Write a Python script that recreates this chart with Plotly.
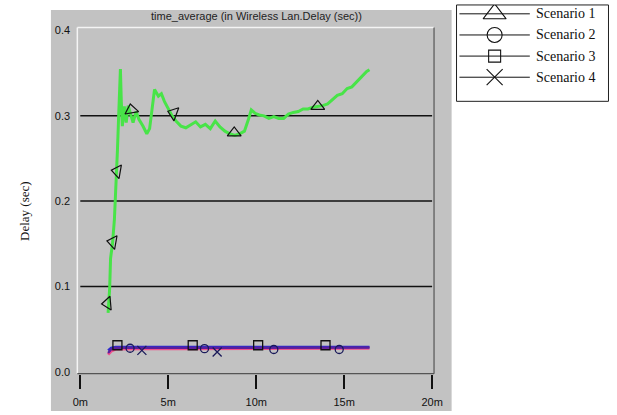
import plotly.graph_objects as go

W, H = 617, 415

# ---- data -------------------------------------------------------------
# Scenario 1: time-averaged wireless LAN delay (x in minutes, y in seconds)
s1_time = [1.58, 1.67, 1.72, 1.83, 1.94, 2.00, 2.06, 2.11, 2.17, 2.22, 2.28,
           2.33, 2.39, 2.50, 2.61, 2.72, 2.83, 3.00, 3.17, 3.33, 3.56, 3.78,
           3.94, 4.11, 4.22, 4.44, 4.61, 4.78, 5.00, 5.22, 5.44, 5.72, 6.00,
           6.28, 6.56, 6.83, 7.11, 7.39, 7.67, 7.94, 8.22, 8.50, 8.78, 9.06,
           9.33, 9.56, 9.72, 9.94, 10.17, 10.44, 10.72, 11.00, 11.28, 11.56,
           11.83, 12.11, 12.39, 12.67, 12.94, 13.22, 13.50, 13.78, 14.06,
           14.33, 14.61, 14.89, 15.17, 15.44, 15.72, 16.00, 16.28, 16.44]
s1_delay = [0.069, 0.098, 0.133, 0.150, 0.179, 0.202, 0.231, 0.259, 0.294,
            0.329, 0.355, 0.317, 0.288, 0.311, 0.292, 0.312, 0.303, 0.292,
            0.305, 0.296, 0.288, 0.279, 0.285, 0.317, 0.331, 0.323, 0.326,
            0.317, 0.308, 0.300, 0.294, 0.288, 0.286, 0.289, 0.293, 0.287,
            0.290, 0.285, 0.294, 0.287, 0.282, 0.279, 0.277, 0.279, 0.282,
            0.296, 0.307, 0.303, 0.301, 0.300, 0.297, 0.299, 0.297, 0.297,
            0.302, 0.304, 0.305, 0.308, 0.308, 0.310, 0.311, 0.312, 0.314,
            0.319, 0.324, 0.326, 0.332, 0.334, 0.340, 0.345, 0.352, 0.354]
s1_mark_time = [1.55, 1.85, 2.10, 2.90, 5.30, 8.75, 13.50]
s1_mark_delay = [0.080, 0.152, 0.235, 0.307, 0.303, 0.280, 0.311]
s1_mark_angle = [-95, -80, -80, -10, -70, 0, 0]

# Scenarios 2-4: nearly flat delay curves
low_time = [1.58, 1.75, 2.00, 2.40, 3.50, 5.50, 8.00, 10.50, 13.00, 15.00, 16.44]
s2_delay = [0.025, 0.028, 0.0290, 0.0290, 0.0286, 0.0286, 0.0286, 0.0286, 0.0286, 0.0286, 0.0290]
s3_delay = [0.020, 0.024, 0.0265, 0.0268, 0.0270, 0.0270, 0.0270, 0.0270, 0.0270, 0.0270, 0.0275]
s4_delay = [0.022, 0.026, 0.0278, 0.0280, 0.0278, 0.0278, 0.0278, 0.0278, 0.0278, 0.0278, 0.0283]

s2_mark_time = [2.83, 7.06, 11.00, 14.72]
s2_mark_delay = [0.0275, 0.027, 0.026, 0.026]
s3_mark_time = [2.11, 6.39, 10.11, 13.94]
s3_mark_delay = [0.031, 0.031, 0.031, 0.031]
s4_mark_time = [3.50, 7.78]
s4_mark_delay = [0.025, 0.023]

x_ticks = [0, 5, 10, 15, 20]
x_tick_text = ["0m", "5m", "10m", "15m", "20m"]
y_ticks = [0.0, 0.1, 0.2, 0.3, 0.4]
y_tick_text = ["0.0", "0.1", "0.2", "0.3", "0.4"]
y_grid = [0.1, 0.2, 0.3]

legend_labels = ["Scenario 1", "Scenario 2", "Scenario 3", "Scenario 4"]
legend_symbols = ["triangle-up-open", "circle-open", "square-open", "x-thin-open"]
legend_sizes = [20, 15, 12, 16]

title_text = "time_average (in Wireless Lan.Delay (sec))"
y_title = "Delay (sec)"

# ---- layout helpers (pixel -> paper) ----------------------------------
def px(x):
    return x / W

def py(y):
    return 1 - y / H

PLOT_L, PLOT_R, PLOT_T, PLOT_B = 74, 439, 25, 377
PANEL = "#c2c2c2"
SANS = "Liberation Sans, Arial, sans-serif"
SERIF = "Liberation Serif, Times New Roman, serif"

fig = go.Figure()

# Scenarios 2-4 (drawn first, underneath)
fig.add_trace(go.Scatter(x=low_time, y=s3_delay, mode="lines",
                         line=dict(color="#f0508c", width=3)))
fig.add_trace(go.Scatter(x=low_time, y=s2_delay, mode="lines",
                         line=dict(color="#2b2bd0", width=2.5)))
fig.add_trace(go.Scatter(x=low_time, y=s4_delay, mode="lines",
                         line=dict(color="#5a1f9a", width=2.2)))

# Scenario 1
fig.add_trace(go.Scatter(x=s1_time, y=s1_delay, mode="lines",
                         line=dict(color="#48e448", width=3)))

# Marker glyphs along the curves
fig.add_trace(go.Scatter(x=s1_mark_time, y=s1_mark_delay, mode="markers",
                         marker=dict(symbol="triangle-up-open", size=12,
                                     angle=s1_mark_angle,
                                     color="#111", line=dict(width=1.2))))
fig.add_trace(go.Scatter(x=s2_mark_time, y=s2_mark_delay, mode="markers",
                         marker=dict(symbol="circle-open", size=8,
                                     color="#1a1a5a", line=dict(width=1.3))))
fig.add_trace(go.Scatter(x=s3_mark_time, y=s3_mark_delay, mode="markers",
                         marker=dict(symbol="square-open", size=9,
                                     color="#111", line=dict(width=1.3))))
fig.add_trace(go.Scatter(x=s4_mark_time, y=s4_mark_delay, mode="markers",
                         marker=dict(symbol="x-thin-open", size=9,
                                     color="#1a1a5a", line=dict(width=1.3))))

# Legend entries on a separate small axis pair
row_top, row_step = 9, 21.5
for i, (lab, sym, sz) in enumerate(zip(legend_labels, legend_symbols, legend_sizes)):
    ry = row_top + i * row_step
    fig.add_trace(go.Scatter(x=[3, 75], y=[ry, ry], mode="lines",
                             line=dict(color="#111", width=1),
                             xaxis="x2", yaxis="y2"))
    fig.add_trace(go.Scatter(x=[39], y=[ry], mode="markers",
                             marker=dict(symbol=sym, size=sz, color="#111",
                                         line=dict(width=1.1)),
                             xaxis="x2", yaxis="y2"))
    fig.add_annotation(x=79, y=ry, xref="x2", yref="y2", text=lab,
                       showarrow=False, xanchor="left", yanchor="middle",
                       font=dict(family=SERIF, size=14, color="#111"))

shapes = [
    # grey panel behind the chart
    dict(type="rect", xref="paper", yref="paper", x0=px(47), x1=px(457),
         y0=0, y1=py(7), fillcolor=PANEL, line=dict(width=0), layer="below"),
    # legend box
    dict(type="rect", xref="paper", yref="paper", x0=px(462), x1=px(617.5),
         y0=py(100), y1=py(2), fillcolor="white",
         line=dict(color="#222", width=1), layer="below"),
    # plot frame: light top/left, dark right/bottom
    dict(type="line", xref="paper", yref="paper", x0=px(PLOT_L), x1=px(PLOT_R),
         y0=py(PLOT_T), y1=py(PLOT_T), line=dict(color="#f4f4f4", width=1.5)),
    dict(type="line", xref="paper", yref="paper", x0=px(PLOT_L), x1=px(PLOT_L),
         y0=py(PLOT_T), y1=py(PLOT_B), line=dict(color="#f4f4f4", width=1.5)),
    dict(type="line", xref="paper", yref="paper", x0=px(PLOT_R), x1=px(PLOT_R),
         y0=py(PLOT_T), y1=py(PLOT_B), line=dict(color="#555", width=1.2)),
    dict(type="line", xref="paper", yref="paper", x0=px(PLOT_L), x1=px(PLOT_R),
         y0=py(PLOT_B), y1=py(PLOT_B), line=dict(color="#555", width=1.2)),
]
# horizontal reference lines spanning the x tick range
for g in y_grid:
    shapes.append(dict(type="line", xref="x", yref="y", x0=x_ticks[0], x1=x_ticks[-1],
                       y0=g, y1=g, line=dict(color="#111", width=1.5), layer="below"))

fig.update_layout(
    width=W, height=H,
    margin=dict(l=0, r=0, t=0, b=0),
    paper_bgcolor="white",
    plot_bgcolor=PANEL,
    showlegend=False,
    shapes=shapes,
    xaxis=dict(domain=[px(PLOT_L), px(PLOT_R)], range=[-0.17, 20.11],
               tickvals=x_ticks, ticktext=x_tick_text,
               ticks="outside", ticklen=14, tickwidth=1.5, tickcolor="#111",
               showgrid=False, zeroline=False, showline=False,
               tickfont=dict(family=SANS, size=11, color="#111"),
               ticklabelstandoff=4),
    yaxis=dict(domain=[py(PLOT_B), py(PLOT_T)], range=[-0.0023, 0.4035],
               tickvals=y_ticks, ticktext=y_tick_text,
               ticks="outside", ticklen=4, tickcolor="rgba(0,0,0,0)",
               showgrid=False, zeroline=False, showline=False,
               tickfont=dict(family=SANS, size=11, color="#111")),
    xaxis2=dict(domain=[px(462), 1], range=[0, 155], visible=False,
                fixedrange=True),
    yaxis2=dict(domain=[py(100), py(2)], range=[98, 0], visible=False,
                fixedrange=True, anchor="x2"),
)

fig.add_annotation(x=px(257), y=py(13), xref="paper", yref="paper",
                   text=title_text, showarrow=False,
                   xanchor="center", yanchor="middle",
                   font=dict(family=SANS, size=11, color="#222"))
fig.add_annotation(x=px(20), y=py(212), xref="paper", yref="paper",
                   text=y_title, showarrow=False, textangle=-90,
                   xanchor="center", yanchor="middle",
                   font=dict(family=SERIF, size=13, color="#111"))

fig.write_html("out.html")
